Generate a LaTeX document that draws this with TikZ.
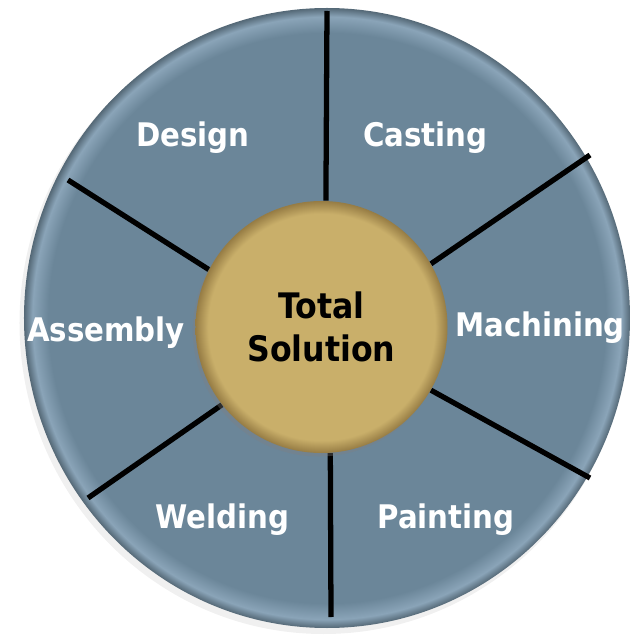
\documentclass[tikz,border=0pt]{standalone}
\usepackage{fontspec}
\newfontfamily\wheelfont{DejaVu Sans Condensed}
\usetikzlibrary{shadows,backgrounds}

\definecolor{slate}{RGB}{107,134,153}
\definecolor{slatelight}{RGB}{138,164,184}
\definecolor{slatedark}{RGB}{84,104,118}
\definecolor{hubgold}{RGB}{201,175,106}
\definecolor{hubdark}{RGB}{150,124,68}

% rims: flat inside, a thin lit band and a dark edge
\pgfdeclareradialshading{wheelrim}{\pgfpoint{0bp}{0bp}}{color(0bp)=(slate); color(23bp)=(slate); color(24.3bp)=(slatelight); color(25bp)=(slatedark); color(50bp)=(slatedark)}
\pgfdeclareradialshading{hubrim}{\pgfpoint{0bp}{0bp}}{color(0bp)=(hubgold); color(22.5bp)=(hubgold); color(25bp)=(hubdark); color(50bp)=(hubdark)}

\begin{document}
\begin{tikzpicture}[spoke/.style={line width=3pt},
	part/.style={anchor=base,text=white,font=\wheelfont\bfseries\fontsize{18.5}{22}\selectfont},
	hubstyle/.style={circle,minimum size=5.04cm,inner sep=0pt,shade,shading=hubrim,align=center,
		font=\wheelfont\bfseries\fontsize{20}{24.5}\selectfont,drop shadow={shadow xshift=-1.5pt,shadow yshift=-2pt,opacity=.35}}]
	%\draw[step=0.5,gray!30] (-6.5,-6.5) grid (6.5,6.5); \fill (0,0) circle(0.05); %Hilfsgitter
	\useasboundingbox (-6.54,-6.34) rectangle (6.1,6.36);
	
	\node[hubstyle] (hub) at (-0.11,-0.18) {Total\\Solution};
	
	\coordinate (sN) at (0,6.14); \coordinate (sNE) at (5.26,3.26); \coordinate (sSE) at (5.26,-3.2);
	\coordinate (sS) at (0.08,-5.98); \coordinate (sSW) at (-4.78,-3.6); \coordinate (sNW) at (-5.18,2.76);
	
	\begin{scope}[on background layer]
		\fill[black!20,opacity=.3] (-0.07,-0.1) ellipse (6.08 and 6.22);
		\shade[shading=wheelrim] (0,0) ellipse (6.06 and 6.2);
		\draw[spoke] (hub.88) -- (sN); \draw[spoke] (hub.30) -- (sNE); \draw[spoke] (hub.-30) -- (sSE);
		\draw[spoke] (hub.274) -- (sS); \draw[spoke] (hub.218) -- (sSW); \draw[spoke] (hub.153) -- (sNW);
	\end{scope}
	
	\node[part] (design) at (-2.68,3.42) {Design}; \node[part] (casting) at (1.97,3.42) {Casting};
	\node[part] (assembly) at (-4.42,-0.46) {Assembly}; \node[part] (machining) at (4.26,-0.38) {Machining};
	\node[part] (welding) at (-2.09,-4.2) {Welding}; \node[part] (painting) at (2.38,-4.2) {Painting};
\end{tikzpicture}
\end{document}
